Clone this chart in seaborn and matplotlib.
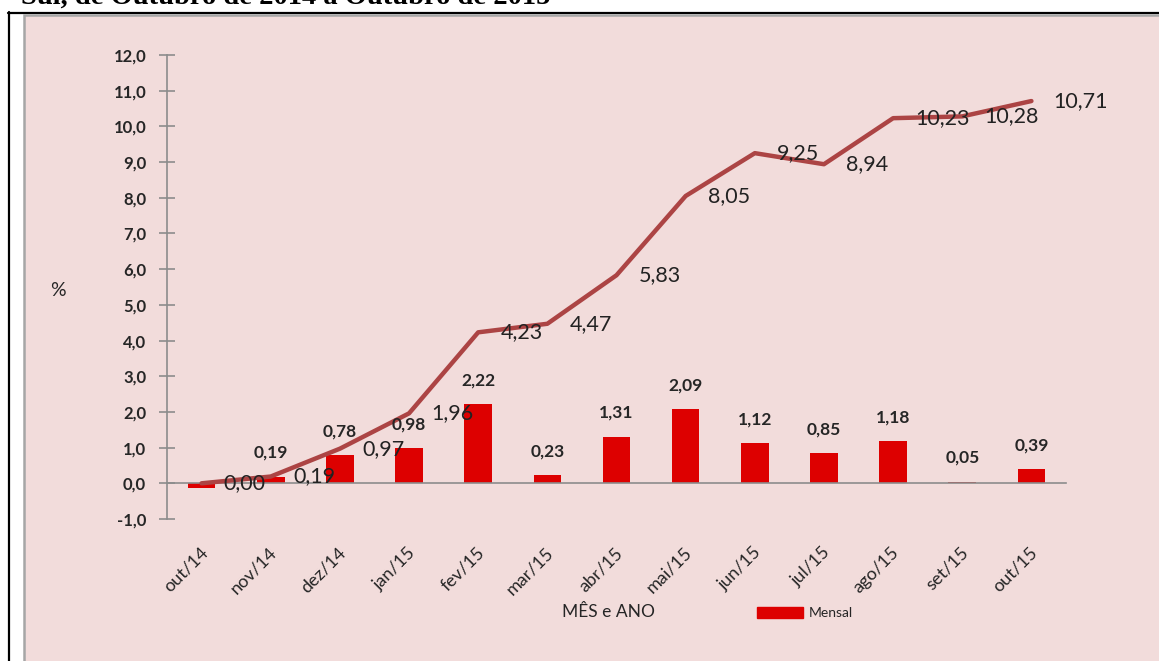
import numpy as np
import matplotlib
matplotlib.use("Agg")
import matplotlib.pyplot as plt
import matplotlib.transforms as mtrans
import seaborn as sns
from matplotlib.patches import Rectangle, Patch
from matplotlib.lines import Line2D

# ---- data ----
months = ["out/14", "nov/14", "dez/14", "jan/15", "fev/15", "mar/15", "abr/15",
          "mai/15", "jun/15", "jul/15", "ago/15", "set/15", "out/15"]
mensal = [-0.12, 0.19, 0.78, 0.98, 2.22, 0.23, 1.31, 2.09, 1.12, 0.85, 1.18, 0.05, 0.39]
acumulado = [0.00, 0.19, 0.97, 1.96, 4.23, 4.47, 5.83, 8.05, 9.25, 8.94, 10.23, 10.28, 10.71]
yticks = list(range(-1, 13))
title = "Sul, de Outubro de 2014 a Outubro de 2015"

BAR = "#DD0000"
LINE = "#AC4444"
PINK = "#F2DCDB"
GRAY = "#8C8C8C"

sns.set_theme(style="white")
plt.rcParams["font.family"] = ["Lato", "DejaVu Sans"]

W, H = 1159, 661
fig = plt.figure(figsize=(W / 100, H / 100), dpi=100)
fig.patch.set_facecolor("white")


def fx(px):
    return px / W


def fy(py):
    return 1 - py / H


# page frame (black) and chart area (pink with gray border)
fig.add_artist(Line2D([fx(8.5), fx(8.5)], [fy(12), -0.01], color="black", lw=1.6,
                      transform=fig.transFigure, zorder=-2))
fig.add_artist(Line2D([fx(7.5), 1.01], [fy(12.5), fy(12.5)], color="black", lw=1.6,
                      transform=fig.transFigure, zorder=-2))
fig.add_artist(Rectangle((fx(23.5), -0.02), 1.05 - fx(23.5), fy(15) + 0.02,
                         transform=fig.transFigure, facecolor=PINK, edgecolor="#A6A6A6",
                         lw=1.8, zorder=-1))

fig.text(fx(21), fy(4), title, family="Liberation Serif", weight="bold",
         fontsize=20.5, va="baseline", ha="left", color="black")

ax = fig.add_axes([fx(167), fy(519), fx(1066) - fx(167), fy(55) - fy(519)])
ax.set_facecolor("none")

sns.barplot(x=months, y=mensal, color=BAR, saturation=1, width=0.4, ax=ax, zorder=2,
            linewidth=0, edgecolor=BAR)
sns.lineplot(x=np.arange(len(months)), y=acumulado, color=LINE, lw=3.2, ax=ax,
             zorder=3, sort=False)

for i, v in enumerate(acumulado):
    ax.annotate(f"{v:.2f}".replace(".", ","), (i, v), xytext=(16, 0),
                textcoords="offset points", ha="left", va="center",
                fontsize=15.5, color="#222222", zorder=4)

for i, v in enumerate(mensal):
    if v > 0:
        ax.annotate(f"{v:.2f}".replace(".", ","), (i, v), xytext=(0, 17),
                    textcoords="offset points", ha="center", va="center",
                    fontsize=12.5, fontweight="bold", color="#262626", zorder=4)

ax.set_ylim(-1, 12)
ax.set_xlim(-0.5, len(months) - 0.5)
ax.set_yticks(yticks)
ax.set_yticklabels([f"{t:.1f}".replace(".", ",") for t in yticks],
                   fontsize=12, fontweight="bold", color="#262626")

for s in ("top", "right"):
    ax.spines[s].set_visible(False)
for s in ("left", "bottom"):
    ax.spines[s].set_color(GRAY)
    ax.spines[s].set_linewidth(1.2)
ax.spines["bottom"].set_position(("data", 0))

ax.set_xticks(range(len(months)))
ax.set_xticklabels(months, fontsize=13, color="#262626")
ax.set_xticks(np.arange(0.5, len(months), 1), minor=True)
ax.tick_params(axis="x", which="major", length=0, pad=44)
ax.tick_params(axis="x", which="minor", direction="inout", length=11, color=GRAY, width=1.2)
ax.tick_params(axis="y", which="major", direction="inout", length=12, color=GRAY,
               width=1.2, pad=9, left=True)
offset = mtrans.ScaledTranslation(-2 / 100, 0, fig.dpi_scale_trans)
for lbl in ax.get_xticklabels():
    lbl.set_rotation(45)
    lbl.set_ha("right")
    lbl.set_rotation_mode("anchor")
    lbl.set_transform(lbl.get_transform() + offset)

ax.set_xlabel("MÊS e ANO", fontsize=12.5, color="#262626")
ax.xaxis.label.set_va("center")
ax.xaxis.set_label_coords((609 - 167) / (1066 - 167), (519 - 612) / (519 - 55))
ax.set_ylabel("%", rotation=0, fontsize=14, color="#262626")
ax.yaxis.label.set_va("center")
ax.yaxis.label.set_ha("center")
ax.yaxis.set_label_coords((58 - 167) / (1066 - 167), (519 - 290) / (519 - 55))

ax.legend(handles=[Patch(facecolor=BAR, edgecolor=BAR)], labels=["Mensal"],
          loc="center left", bbox_to_anchor=(fx(757), fy(613)),
          bbox_transform=fig.transFigure, frameon=False, fontsize=10,
          handlelength=3.3, handleheight=0.8, borderpad=0, borderaxespad=0,
          handletextpad=0.45)

fig.savefig("out.png", dpi=100)
